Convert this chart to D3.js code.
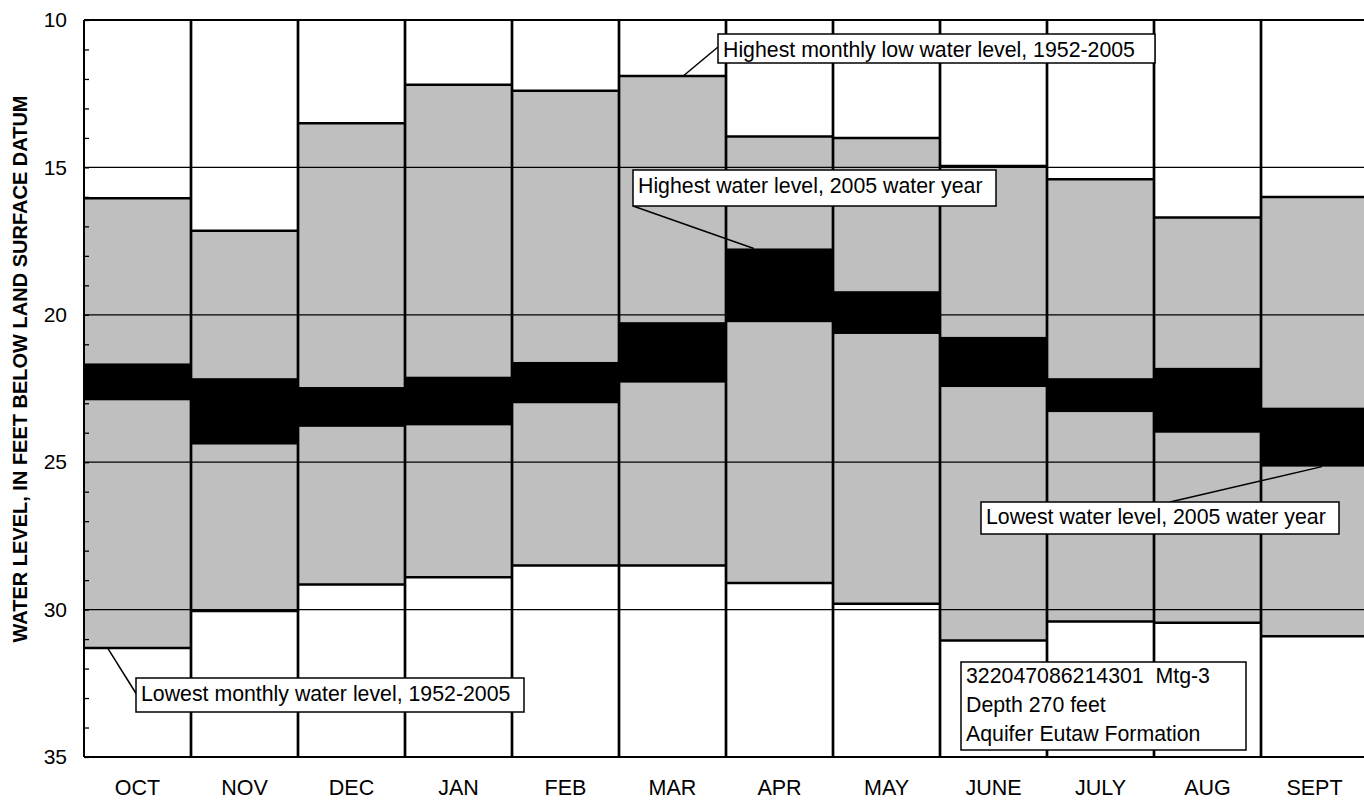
<!DOCTYPE html>
<html>
<head>
<meta charset="utf-8">
<script src="https://cdn.jsdelivr.net/npm/d3@7"></script>
<style>
body { margin:0; background:#fff; }
svg { display:block; font-family:"Liberation Sans", Arial, Helvetica, sans-serif; }
.domain { display:none; }
</style>
</head>
<body>
<svg></svg>
<script>
// months of the water year
var months = ["OCT","NOV","DEC","JAN","FEB","MAR","APR","MAY","JUNE","JULY","AUG","SEPT"];
// period of record 1952-2005 (feet below land surface)
var highestMonthlyLow = [16.05,17.15,13.5,12.2,12.4,11.9,13.95,14.0,14.95,15.4,16.7,16.0];
var lowestMonthly = [31.3,30.05,29.15,28.9,28.5,28.5,29.1,29.8,31.05,30.4,30.45,30.9];
// 2005 water year range
var high2005 = [21.65,22.15,22.45,22.1,21.6,20.25,17.75,19.2,20.75,22.15,21.8,23.15];
var low2005 = [22.9,24.4,23.8,23.75,23.0,22.3,20.25,20.65,22.45,23.3,24.0,25.15];
var yLabels = [10,15,20,25,30,35];
var gridValues = [15,20,25,30];
var siteInfo = ["322047086214301  Mtg-3","Depth 270 feet","Aquifer Eutaw Formation"];

var screen = {width:1364, height:800};
var margins = {top:20, bottom:43, left:84, right:-4};

var svg = d3.select('svg')
  .attr('width',screen.width)
  .attr('height',screen.height);

var xScale = d3.scaleBand()
  .domain(months)
  .range([margins.left, screen.width-margins.right])
  .padding(0);
var yScale = d3.scaleLinear()
  .domain([10,35])
  .range([margins.top, screen.height-margins.bottom]);
var bw = xScale.bandwidth();

var rows = months.map(function(m,i){
  return {month:m, top:highestMonthlyLow[i], bottom:lowestMonthly[i], hi:high2005[i], lo:low2005[i]};
});

// gray period-of-record boxes
svg.append('g').selectAll('rect')
  .data(rows).enter().append('rect')
  .attr('x',function(d){return xScale(d.month);})
  .attr('y',function(d){return yScale(d.top);})
  .attr('width',bw)
  .attr('height',function(d){return yScale(d.bottom)-yScale(d.top);})
  .attr('fill','#bfbfbf')
  .attr('stroke','#555')
  .attr('stroke-width',1);

// 2005 black boxes
svg.append('g').selectAll('rect')
  .data(rows).enter().append('rect')
  .attr('x',function(d){return xScale(d.month);})
  .attr('y',function(d){return yScale(d.hi);})
  .attr('width',bw)
  .attr('height',function(d){return yScale(d.lo)-yScale(d.hi);})
  .attr('fill','#000');

// grid lines
svg.append('g').selectAll('line')
  .data(gridValues).enter().append('line')
  .attr('x1',margins.left).attr('x2',screen.width)
  .attr('y1',function(d){return yScale(d);})
  .attr('y2',function(d){return yScale(d);})
  .attr('stroke','#000')
  .attr('stroke-width',1.3);

// thick lines on top and bottom of gray boxes
var edges = svg.append('g');
edges.selectAll('line.top')
  .data(rows).enter().append('line')
  .attr('class','top')
  .attr('x1',function(d){return xScale(d.month);})
  .attr('x2',function(d){return xScale(d.month)+bw;})
  .attr('y1',function(d){return yScale(d.top);})
  .attr('y2',function(d){return yScale(d.top);})
  .attr('stroke','#000').attr('stroke-width',2.5);
edges.selectAll('line.bot')
  .data(rows).enter().append('line')
  .attr('class','bot')
  .attr('x1',function(d){return xScale(d.month);})
  .attr('x2',function(d){return xScale(d.month)+bw;})
  .attr('y1',function(d){return yScale(d.bottom);})
  .attr('y2',function(d){return yScale(d.bottom);})
  .attr('stroke','#000').attr('stroke-width',2.5);

// month dividers
svg.append('g').selectAll('line')
  .data(months.slice(1)).enter().append('line')
  .attr('x1',function(d){return xScale(d);})
  .attr('x2',function(d){return xScale(d);})
  .attr('y1',yScale(10)).attr('y2',yScale(35))
  .attr('stroke','#000').attr('stroke-width',2.7);

// frame
svg.append('line')
  .attr('x1',margins.left).attr('x2',screen.width)
  .attr('y1',yScale(10)).attr('y2',yScale(10))
  .attr('stroke','#000').attr('stroke-width',1.8);
svg.append('line')
  .attr('x1',margins.left).attr('x2',screen.width)
  .attr('y1',yScale(35)).attr('y2',yScale(35))
  .attr('stroke','#000').attr('stroke-width',2);
svg.append('line')
  .attr('x1',margins.left).attr('x2',margins.left)
  .attr('y1',yScale(10)).attr('y2',yScale(35))
  .attr('stroke','#000').attr('stroke-width',2);

// y axis: minor ticks every foot, labels every 5
var minorAxis = d3.axisLeft(yScale)
  .tickValues(d3.range(10,36,1))
  .tickSize(-5)
  .tickFormat('');
svg.append('g').classed('yMinor',true)
  .attr('transform','translate('+margins.left+',0)')
  .call(minorAxis)
  .selectAll('line').attr('stroke','#000').attr('stroke-width',1.3);

var yAxis = d3.axisLeft(yScale)
  .tickValues(yLabels)
  .tickSize(0)
  .tickPadding(17);
var yA = svg.append('g').classed('yAxis',true)
  .attr('transform','translate('+margins.left+',0)')
  .call(yAxis);
yA.selectAll('text')
  .attr('font-size',21)
  .attr('font-family','"Liberation Sans", Arial, sans-serif')
  .attr('fill','#000');

// x axis month labels
var xAxis = d3.axisBottom(xScale).tickSize(0).tickPadding(23);
var xA = svg.append('g').classed('xAxis',true)
  .attr('transform','translate(0,'+yScale(35)+')')
  .call(xAxis);
xA.selectAll('text')
  .attr('font-size',21.5)
  .attr('font-family','"Liberation Sans", Arial, sans-serif')
  .attr('fill','#000');

// y title
svg.append('text')
  .attr('transform','translate(27,369) rotate(-90)')
  .attr('text-anchor','middle')
  .attr('font-size',20)
  .attr('font-weight','bold')
  .text('WATER LEVEL, IN FEET BELOW LAND SURFACE DATUM');

// annotations
var notes = [
  {text:'Highest monthly low water level, 1952-2005', bx:718, by:34, bw:437, bh:29, ty:57,
   lx:718, ly:47, month:'MAR', f:0.6, v:highestMonthlyLow[5]},
  {text:'Highest water level, 2005 water year', bx:633, by:170, bw:363, bh:36, ty:193,
   lx:633, ly:206, month:'APR', f:0.26, v:high2005[6]},
  {text:'Lowest water level, 2005 water year', bx:981, by:502, bw:358, bh:32, ty:524,
   lx:1170, ly:502, month:'SEPT', f:0.57, v:low2005[11]},
  {text:'Lowest monthly water level, 1952-2005', bx:136, by:678, bw:388, bh:34, ty:701,
   lx:137, ly:695, month:'OCT', f:0.22, v:lowestMonthly[0]}
];
var ann = svg.append('g');
ann.selectAll('line')
  .data(notes).enter().append('line')
  .attr('x1',function(d){return d.lx;})
  .attr('y1',function(d){return d.ly;})
  .attr('x2',function(d){return xScale(d.month)+d.f*bw;})
  .attr('y2',function(d){return yScale(d.v);})
  .attr('stroke','#000').attr('stroke-width',1.5);
ann.selectAll('rect')
  .data(notes).enter().append('rect')
  .attr('x',function(d){return d.bx;})
  .attr('y',function(d){return d.by;})
  .attr('width',function(d){return d.bw;})
  .attr('height',function(d){return d.bh;})
  .attr('fill','#fff').attr('stroke','#000').attr('stroke-width',1.5);
ann.selectAll('text')
  .data(notes).enter().append('text')
  .attr('x',function(d){return d.bx+5;})
  .attr('y',function(d){return d.ty;})
  .attr('font-size',21.3)
  .text(function(d){return d.text;});

// site info box
var info = svg.append('g');
info.append('rect')
  .attr('x',961).attr('y',662).attr('width',285).attr('height',88)
  .attr('fill','#fff').attr('stroke','#000').attr('stroke-width',1.5);
info.selectAll('text')
  .data(siteInfo).enter().append('text')
  .attr('x',966)
  .attr('y',function(d,i){return 683+i*29;})
  .attr('font-size',21.3)
  .style('white-space','pre')
  .text(function(d){return d;});
</script>
</body>
</html>
